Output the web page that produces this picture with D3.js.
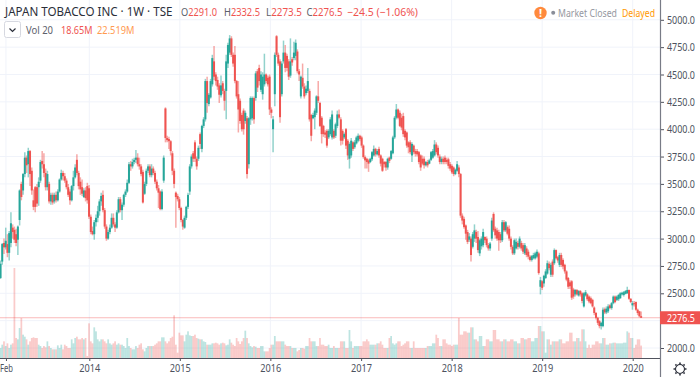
<!DOCTYPE html>
<meta charset="utf-8">
<style>
  html, body { margin: 0; padding: 0; background: #fff; overflow: hidden; }
  text { font-family: "Noto Sans", sans-serif; }
  .axis text { fill: #4c525e; font-size: 11px; }
</style>
<script src="https://d3js.org/d3.v7.min.js"></script>
<body>
<div id="chart"></div>
<script>

var open = [
  2640,2790,2960,2920,2950,2870,2960,3100,3080,3040,
  2990,3170,3500,3440,3590,3740,3680,3800,3620,3350,
  3470,3470,3470,3530,3710,3680,3600,3470,3500,3340,
  3400,3340,3400,3350,3430,3540,3600,3570,3530,3470,
  3430,3350,3480,3560,3720,3600,3520,3470,3380,3440,
  3480,3460,3200,3070,3040,3150,3190,3250,3340,3400,
  3260,3110,3000,3060,3100,3190,3130,3100,3240,3360,
  3260,3310,3400,3430,3510,3680,3660,3700,3720,3740,
  3680,3660,3610,3410,3500,3620,3660,3580,3640,3600,
  3520,3460,3430,3270,3530,4190,3920,3910,3890,3780,
  3620,3420,3390,3360,3280,3170,3100,3190,3290,3430,
  3660,3780,3880,3730,3730,3955,3820,4030,4090,4440,
  4230,4290,4410,4620,4500,4450,4400,4310,4420,4350,
  4350,4600,4700,4830,4680,4680,4440,4320,4260,4130,
  4170,4075,4100,3680,4090,4100,4285,4285,4530,4560,
  4360,4320,4410,4500,4470,4480,4180,4000,4320,4850,
  4680,4620,4320,4620,4700,4670,4620,4490,4640,4650,
  4670,4710,4530,4300,4470,4390,4330,4350,4350,4130,
  4100,4110,4150,4300,4240,4105,4030,3970,3985,3925,
  3955,3925,3985,3940,4030,4135,4090,3985,3925,4000,
  3895,3730,3760,3880,3835,3870,3895,3940,3925,3850,
  3745,3730,3715,3700,3725,3760,3820,3770,3820,3760,
  3730,3700,3700,3650,3740,3730,3780,3925,4105,4180,
  4150,4105,4120,3985,3970,3880,3880,3760,3850,3800,
  3800,3790,3760,3730,3730,3670,3700,3685,3720,3740,
  3760,3860,3830,3750,3700,3730,3740,3720,3725,3680,
  3665,3650,3590,3620,3650,3590,3210,3180,3120,3060,
  2990,3000,2925,3000,3060,3015,2865,2930,2940,3015,
  3000,2940,2910,3000,3225,3090,3075,3060,3040,2985,
  3150,3075,3105,3090,3000,2925,2865,2910,2960,2925,
  2960,2940,2865,2910,2880,2835,2805,2820,2820,2835,
  2865,2560,2610,2590,2640,2680,2770,2670,2790,2775,
  2895,2830,2760,2850,2805,2760,2700,2640,2600,2610,
  2535,2490,2530,2480,2520,2500,2380,2480,2490,2470,
  2455,2440,2370,2320,2275,2245,2200,2200,2355,2325,
  2335,2390,2365,2410,2470,2440,2445,2455,2490,2485,
  2495,2500,2530,2450,2390,2410,2420,2350,2335,2291
];

var high = [
  2800,2960,3000,3100,3040,3070,3240,3130,3110,3090,
  3120,3450,3520,3600,3790,3760,3830,3810,3650,3450,
  3480,3500,3560,3720,3800,3780,3640,3620,3520,3420,
  3420,3420,3430,3450,3550,3630,3620,3600,3550,3500,
  3450,3490,3620,3680,3770,3620,3560,3540,3460,3470,
  3510,3490,3220,3110,3170,3220,3300,3360,3420,3440,
  3280,3130,3080,3130,3230,3230,3150,3260,3380,3380,
  3330,3410,3450,3540,3700,3710,3730,3740,3810,3780,
  3740,3680,3630,3520,3640,3680,3680,3680,3660,3620,
  3540,3490,3440,3450,3760,4200,3940,3930,3900,3800,
  3640,3430,3410,3380,3290,3180,3210,3300,3420,3680,
  3770,3800,3900,3750,3850,3970,4040,4110,4460,4480,
  4330,4460,4680,4760,4520,4480,4420,4490,4440,4370,
  4680,4790,4860,4850,4700,4760,4450,4440,4280,4150,
  4190,4170,4120,4110,4300,4300,4300,4530,4550,4590,
  4530,4520,4690,4510,4490,4500,4200,4120,4700,4860,
  4700,4640,4620,4810,4770,4690,4640,4830,4660,4800,
  4820,4730,4550,4490,4600,4420,4400,4560,4370,4140,
  4150,4190,4310,4440,4250,4120,4040,3990,4000,4000,
  4110,4170,4000,4060,4170,4180,4110,4000,3970,4010,
  3910,3880,3920,3890,3900,3940,3960,3950,3940,3860,
  3760,3740,3730,3740,3800,3850,3830,3820,3840,3770,
  3740,3710,3710,3740,3750,3810,3940,4120,4230,4190,
  4170,4140,4150,4000,3980,3890,3900,3880,3860,3820,
  3820,3800,3770,3760,3750,3710,3720,3730,3800,3820,
  3900,3880,3850,3770,3750,3750,3760,3740,3740,3700,
  3680,3660,3640,3710,3670,3600,3230,3200,3130,3080,
  3050,3020,3060,3130,3080,3070,3000,3020,3090,3020,
  3020,2960,2970,3190,3240,3110,3100,3080,3060,3170,
  3170,3160,3120,3120,3020,2940,3000,3000,2980,3020,
  2980,2960,2960,2930,2900,2850,2850,2870,2880,2900,
  2880,2650,2620,2670,2720,2800,2790,2780,2810,2910,
  2900,2840,2870,2870,2820,2770,2710,2650,2620,2620,
  2550,2540,2540,2530,2530,2510,2510,2530,2500,2480,
  2470,2450,2380,2330,2285,2255,2240,2370,2370,2380,
  2400,2400,2420,2480,2480,2480,2495,2510,2515,2520,
  2530,2560,2535,2455,2430,2430,2425,2360,2340,2332.5
];

var low = [
  2630,2760,2860,2900,2830,2800,2920,3000,2960,2930,
  2850,3120,3350,3400,3560,3600,3560,3480,3400,3260,
  3240,3290,3300,3510,3640,3560,3440,3440,3320,3310,
  3310,3320,3330,3340,3420,3530,3530,3510,3450,3380,
  3310,3340,3440,3550,3580,3450,3400,3390,3370,3340,
  3320,3180,3040,3030,2990,3110,3150,3210,3300,3240,
  3090,2980,2990,3040,3090,3110,3060,3090,3230,3240,
  3170,3290,3380,3420,3500,3620,3640,3680,3690,3660,
  3630,3570,3320,3400,3480,3600,3560,3560,3580,3500,
  3440,3280,3260,3260,3510,3880,3880,3820,3760,3580,
  3460,3100,3340,3260,3150,3080,3090,3170,3270,3400,
  3640,3700,3700,3630,3710,3820,3790,4010,4070,4150,
  4210,4280,4390,4450,4400,4360,4240,4290,4320,4170,
  4090,4560,4680,4660,4570,4420,4280,3970,4050,3980,
  3950,4050,3550,3640,4040,4080,4050,4260,4340,4400,
  4340,4270,4390,4420,4390,4130,4100,3790,4210,4660,
  4580,4060,4300,4600,4520,4530,4450,4470,4580,4630,
  4630,4510,4440,4280,4370,4280,4310,4330,4070,3890,
  4090,4000,4130,4240,4020,3870,3930,3920,3830,3910,
  3940,3905,3910,3920,4010,4090,3850,3860,3910,3820,
  3720,3640,3740,3800,3820,3860,3880,3890,3830,3730,
  3640,3640,3610,3690,3710,3750,3750,3760,3740,3660,
  3610,3650,3620,3630,3690,3720,3770,3910,4090,4090,
  4020,3990,3930,3900,3830,3780,3770,3700,3770,3750,
  3750,3680,3620,3670,3640,3660,3650,3680,3710,3730,
  3750,3770,3740,3680,3680,3680,3680,3680,3640,3620,
  3590,3570,3580,3610,3560,3190,3130,3090,2990,2950,
  2970,2790,2910,2970,2960,2870,2840,2900,2920,2960,
  2920,2890,2890,2980,3060,3000,2980,2890,2960,2970,
  3060,3060,3030,2980,2900,2850,2850,2900,2900,2910,
  2890,2860,2850,2830,2810,2790,2790,2810,2810,2820,
  2670,2490,2530,2560,2630,2670,2710,2650,2650,2760,
  2810,2780,2740,2740,2720,2680,2610,2540,2540,2440,
  2450,2470,2480,2470,2470,2410,2370,2470,2430,2410,
  2400,2370,2300,2260,2210,2180,2170,2190,2310,2310,
  2320,2355,2350,2400,2410,2430,2430,2450,2480,2470,
  2490,2495,2440,2410,2350,2380,2340,2300,2280,2273.5
];

var close = [
  2770,2950,2920,2980,2870,3050,3140,3060,2990,2960,
  3110,3440,3380,3590,3740,3670,3800,3590,3440,3290,
  3290,3320,3520,3700,3680,3600,3470,3590,3340,3400,
  3330,3400,3350,3430,3540,3600,3570,3530,3470,3400,
  3350,3480,3560,3650,3600,3480,3450,3410,3440,3370,
  3350,3200,3060,3040,3150,3190,3250,3340,3390,3260,
  3110,3000,3060,3100,3190,3130,3100,3240,3360,3260,
  3310,3400,3430,3510,3680,3660,3700,3720,3740,3680,
  3660,3590,3330,3500,3620,3660,3580,3640,3600,3520,
  3460,3420,3270,3430,3740,3920,3900,3890,3800,3620,
  3500,3380,3360,3280,3170,3110,3190,3290,3400,3660,
  3750,3730,3730,3660,3830,3865,4030,4090,4440,4240,
  4315,4440,4650,4480,4440,4390,4315,4400,4350,4260,
  4620,4770,4830,4680,4600,4440,4300,4180,4075,4000,
  4000,4150,3590,4100,4285,4285,4090,4510,4380,4440,
  4500,4480,4500,4440,4410,4180,4150,4090,4680,4680,
  4600,4110,4600,4700,4560,4560,4480,4620,4610,4700,
  4790,4530,4500,4480,4390,4300,4370,4440,4090,3940,
  4130,4170,4300,4260,4030,3955,3955,3950,3850,3985,
  4090,4135,3925,4045,4135,4105,3895,3895,3955,3850,
  3760,3865,3895,3820,3880,3925,3940,3910,3850,3745,
  3715,3700,3685,3730,3790,3820,3770,3800,3760,3685,
  3620,3680,3650,3730,3710,3800,3925,4105,4180,4105,
  4030,4015,3955,3925,3850,3835,3790,3865,3790,3775,
  3770,3700,3650,3685,3670,3700,3670,3715,3790,3800,
  3860,3790,3760,3700,3730,3700,3700,3700,3665,3640,
  3605,3590,3630,3680,3590,3210,3165,3105,3045,2970,
  3020,2850,3040,3075,3000,2895,2985,3000,3060,2985,
  2940,2910,2955,3165,3075,3030,3000,2985,2985,3150,
  3075,3150,3045,3000,2925,2865,2985,2970,2925,3000,
  2910,2880,2940,2850,2835,2805,2840,2850,2865,2880,
  2685,2620,2550,2660,2700,2775,2730,2760,2670,2895,
  2820,2800,2850,2760,2745,2700,2625,2560,2565,2460,
  2470,2530,2490,2520,2490,2430,2500,2510,2445,2425,
  2410,2380,2320,2275,2230,2200,2230,2350,2325,2360,
  2380,2365,2410,2470,2420,2470,2485,2500,2505,2510,
  2520,2530,2450,2420,2410,2400,2350,2320,2290,2276.5
];

// millions of shares
var volume = [
  15,20,25,18,22,15,20,22,135,30,
  28,45,60,35,32,28,20,25,30,31,
  30,30,20,18,15,18,16,25,18,15,
  13,13,13,19,15,20,13,20,18,15,
  15,28,22,30,32,28,28,30,28,30,
  3,52,25,22,46,40,28,25,28,28,
  25,22,28,22,20,22,25,20,22,20,
  20,18,15,30,18,15,13,13,18,15,
  20,22,13,10,15,18,18,18,18,20,
  22,25,25,31,31,25,22,25,30,32,
  64,20,8,38,34,34,25,35,40,34,
  33,33,35,30,29,28,28,25,24,20,
  20,20,22,22,23,22,20,22,23,22,
  19,20,28,23,20,18,30,25,21,25,
  30,41,30,22,18,16,18,17,15,15,
  18,18,10,10,10,15,20,20,33,25,
  25,25,25,25,20,18,18,18,15,15,
  15,10,12,15,15,14,18,18,30,25,
  25,25,18,18,30,20,20,18,18,20,
  15,15,18,15,15,15,25,25,25,15,
  15,42,25,15,18,18,18,18,18,25,
  25,28,25,20,20,20,20,22,22,25,
  20,15,15,15,30,33,22,20,22,25,
  25,18,20,22,25,25,15,15,25,15,
  15,15,15,15,15,15,18,18,18,22,
  22,35,30,18,18,28,28,22,20,20,
  18,20,20,20,60,35,35,40,40,38,
  38,46,46,28,28,25,33,33,18,18,
  28,28,25,25,42,42,28,28,25,25,
  28,28,25,25,28,28,25,25,22,22,
  30,30,28,28,30,30,25,25,30,30,
  48,48,40,40,8,28,28,20,25,25,
  25,25,28,28,22,22,25,25,38,38,
  25,25,30,30,25,43,43,25,15,20,
  15,20,20,25,25,22,22,30,30,20,
  20,22,22,23,23,22,22,22,22,23,
  23,40,38,30,30,15,20,28,28,18.65
];

var priceTicks = [5000,4750,4500,4250,4000,3750,3500,3250,3000,2750,2500,2000];
var gridPrices = [5000,4750,4500,4250,4000,3750,3500,3250,3000,2750,2500,2250,2000];
var timeTicks = [new Date(2013,0,30), new Date(2014,0,1), new Date(2015,0,1), new Date(2016,0,1),
                 new Date(2017,0,1), new Date(2018,0,1), new Date(2019,0,1), new Date(2020,0,1)];
var timeLabels = ["Feb","2014","2015","2016","2017","2018","2019","2020"];

var lastPrice = 2276.5;
var up = "#26a69a", down = "#ef5350", orange = "#ff9800";

var width = 700, height = 377;
var plotRight = 660, plotBottom = 358;

var svg = d3.select("#chart").append("svg")
    .attr("width", width)
    .attr("height", height)
    .style("display", "block");

// squeeze a label into the width it has in the picture
function fit(sel, w) {
  return sel.attr("textLength", w).attr("lengthAdjust", "spacingAndGlyphs");
}

var firstWeek = new Date(2013,0,8);
var weeks = close.map(function(d, i) { return d3.timeWeek.offset(firstWeek, i); });

var x = d3.scaleTime()
    .domain([new Date(2014,0,1), new Date(2020,0,1)])
    .range([89.3, 632.7]);

var y = d3.scaleLinear()
    .domain([2000, 5000])
    .range([348, 19.8]);

var yVol = d3.scaleLinear()
    .domain([0, 135])
    .range([plotBottom, 268]);

// grid
svg.append("g").selectAll("line")
    .data(gridPrices).enter().append("line")
    .attr("x1", 0).attr("x2", plotRight)
    .attr("y1", function(d) { return y(d); })
    .attr("y2", function(d) { return y(d); })
    .attr("stroke", "#f0f3fa");

svg.append("g").selectAll("line")
    .data(timeTicks).enter().append("line")
    .attr("x1", function(d) { return x(d); })
    .attr("x2", function(d) { return x(d); })
    .attr("y1", 0).attr("y2", plotBottom)
    .attr("stroke", "#f0f3fa");

// volume
var bars = d3.range(close.length);

svg.append("g").selectAll("rect")
    .data(bars).enter().append("rect")
    .attr("x", function(i) { return x(weeks[i]) - 0.87; })
    .attr("width", 1.74)
    .attr("y", function(i) { return yVol(volume[i]); })
    .attr("height", function(i) { return plotBottom - yVol(volume[i]); })
    .attr("fill", function(i) { return close[i] >= open[i] ? up : down; })
    .attr("opacity", 0.3);

// last price line
svg.append("line")
    .attr("x1", 0).attr("x2", plotRight)
    .attr("y1", y(lastPrice)).attr("y2", y(lastPrice))
    .attr("stroke", down)
    .attr("stroke-opacity", 0.4);

// candles
var candle = svg.append("g").selectAll("g")
    .data(bars).enter().append("g");

candle.append("line")
    .attr("x1", function(i) { return x(weeks[i]); })
    .attr("x2", function(i) { return x(weeks[i]); })
    .attr("y1", function(i) { return y(high[i]); })
    .attr("y2", function(i) { return y(low[i]); })
    .attr("stroke", function(i) { return close[i] >= open[i] ? up : down; })
    .attr("stroke-width", 1.5)
    .attr("stroke-opacity", 0.5);

candle.append("rect")
    .attr("x", function(i) { return x(weeks[i]) - 1; })
    .attr("width", 2)
    .attr("y", function(i) { return y(Math.max(open[i], close[i])); })
    .attr("height", function(i) { return Math.max(1, Math.abs(y(open[i]) - y(close[i]))); })
    .attr("fill", function(i) { return close[i] >= open[i] ? up : down; });

// axes
var yAxis = d3.axisRight(y)
    .tickValues(priceTicks)
    .tickFormat(d3.format(".1f"))
    .tickSize(4)
    .tickPadding(3);

var yAxisG = svg.append("g")
    .attr("class", "axis")
    .attr("transform", "translate(" + plotRight + ",0)")
    .call(yAxis);
yAxisG.select(".domain").remove();
yAxisG.selectAll("line").attr("stroke", "#50535e");
fit(yAxisG.selectAll("text"), 28);

var xAxis = d3.axisBottom(x)
    .tickValues(timeTicks)
    .tickFormat(function(d, i) { return timeLabels[i]; })
    .tickSize(3)
    .tickPadding(3);

var xAxisG = svg.append("g")
    .attr("class", "axis")
    .attr("transform", "translate(0," + plotBottom + ")")
    .call(xAxis);
xAxisG.select(".domain").remove();
xAxisG.selectAll("line").attr("stroke", "#50535e");
xAxisG.selectAll("text").each(function(d, i) {
  fit(d3.select(this), i === 0 ? 13 : 21);
});

svg.append("line")
    .attr("x1", 0).attr("x2", plotRight)
    .attr("y1", plotBottom + 0.5).attr("y2", plotBottom + 0.5)
    .attr("stroke", "#50535e");

svg.append("line")
    .attr("x1", plotRight + 0.5).attr("x2", plotRight + 0.5)
    .attr("y1", 0).attr("y2", height)
    .attr("stroke", "#787b86")
    .attr("stroke-width", 1.2);

// last price label
svg.append("rect")
    .attr("x", plotRight).attr("y", y(lastPrice) - 6.5)
    .attr("width", 40).attr("height", 13)
    .attr("fill", down);

fit(svg.append("text")
    .attr("x", 667).attr("y", y(lastPrice) + 3.8)
    .attr("fill", "#fff")
    .style("font-size", "11px")
    .text("2276.5"), 28);

// header
fit(svg.append("text")
    .attr("x", 5).attr("y", 16)
    .style("font-size", "13px")
    .attr("fill", "#2a2e39")
    .text("JAPAN TOBACCO INC · 1W · TSE"), 167.5);

var ohlc = [["O","2291.0",181], ["H","2332.5",224], ["L","2273.5",266], ["C","2276.5",306.5]];
ohlc.forEach(function(d) {
  var t = svg.append("text").attr("x", d[2]).attr("y", 16).style("font-size", "11px");
  t.append("tspan").attr("fill", "#5d606b").text(d[0]);
  t.append("tspan").attr("fill", down).text(d[1]);
  fit(t, 36);
});

fit(svg.append("text")
    .attr("x", 347).attr("y", 16)
    .attr("fill", down)
    .style("font-size", "11px")
    .text("−24.5 (−1.06%)"), 71);

svg.append("rect")
    .attr("x", 4.5).attr("y", 21.5)
    .attr("width", 16).attr("height", 16).attr("rx", 2)
    .attr("fill", "#fff").attr("stroke", "#d6d8e0");

svg.append("path")
    .attr("d", "M9.5,28.5 L12.5,31.5 L15.5,28.5")
    .attr("fill", "none").attr("stroke", "#2a2e39").attr("stroke-width", 1.2);

fit(svg.append("text").attr("x", 26).attr("y", 34).attr("fill", "#5d606b")
    .style("font-size", "11px").text("Vol 20"), 27);
fit(svg.append("text").attr("x", 61).attr("y", 34).attr("fill", down)
    .style("font-size", "11px").text("18.65M"), 31.5);
fit(svg.append("text").attr("x", 97).attr("y", 34).attr("fill", "#ff9a50")
    .style("font-size", "11px").text("22.519M"), 37.5);

// market status
svg.append("circle").attr("cx", 540.5).attr("cy", 13).attr("r", 6.2).attr("fill", "#ff8a3d");
svg.append("text").attr("x", 540.5).attr("y", 17).attr("text-anchor", "middle")
    .attr("fill", "#fff").style("font-size", "11px").style("font-weight", "700").text("!");
svg.append("circle").attr("cx", 553.2).attr("cy", 12.7).attr("r", 2).attr("fill", "#8a8e99");
fit(svg.append("text").attr("x", 558).attr("y", 16.5).attr("fill", "#9598a1")
    .style("font-size", "11px").text("Market Closed"), 59);
fit(svg.append("text").attr("x", 622).attr("y", 16.5).attr("fill", orange)
    .style("font-size", "11px").text("Delayed"), 33);

// settings gear
var gear = svg.append("g").attr("transform", "translate(680,369)");
gear.selectAll("line")
    .data(d3.range(8)).enter().append("line")
    .attr("x1", 0).attr("y1", -5)
    .attr("x2", 0).attr("y2", -6.5)
    .attr("transform", function(d) { return "rotate(" + d * 45 + ")"; })
    .attr("stroke", "#2a2e39").attr("stroke-width", 1.6);
gear.append("circle").attr("r", 4.5).attr("fill", "#fff")
    .attr("stroke", "#2a2e39").attr("stroke-width", 1.1);

</script>
</body>
